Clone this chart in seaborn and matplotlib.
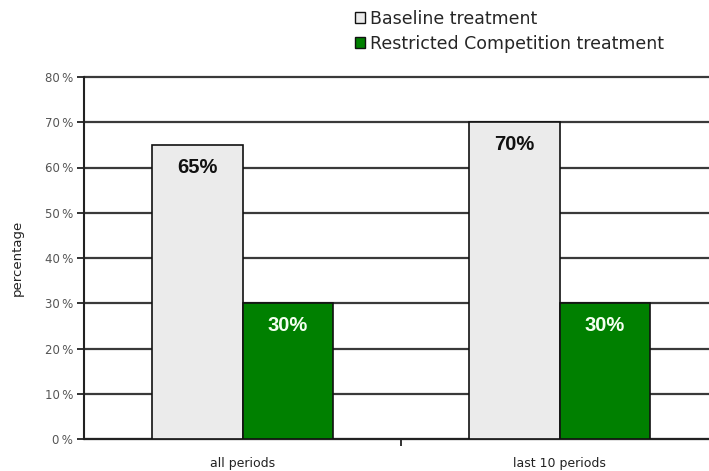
import matplotlib
matplotlib.use("Agg")
import matplotlib.pyplot as plt
import seaborn as sns
import pandas as pd
from matplotlib.patches import Patch
from matplotlib.ticker import FuncFormatter

categories = ["all periods", "last 10 periods"]
treatments = ["Baseline treatment", "Restricted Competition treatment"]
baseline = [65, 70]
restricted = [30, 30]
yticks = [0, 10, 20, 30, 40, 50, 60, 70, 80]

df = pd.DataFrame({
    "period": categories * 2,
    "treatment": [treatments[0]] * 2 + [treatments[1]] * 2,
    "value": baseline + restricted,
})

sns.set_theme(style="white")
plt.rcParams["font.family"] = ["DejaVu Sans"]

fig = plt.figure(figsize=(7.09, 4.71), dpi=100)
ax = fig.add_axes([84 / 709, 32 / 471, 634 / 709, 362 / 471])

palette = {treatments[0]: "#ebebeb", treatments[1]: "#008000"}
sns.barplot(data=df, x="period", y="value", hue="treatment", order=categories,
            hue_order=treatments, palette=palette, width=0.57, saturation=1,
            edgecolor="#111111", linewidth=1.2, legend=False, ax=ax, zorder=3)

ax.set_ylim(0, 80)
ax.set_xlim(-0.5, 1.5)
ax.set_yticks(yticks)
ax.yaxis.set_major_formatter(FuncFormatter(lambda v, _: f"{v:.0f}\u2009%"))
ax.grid(axis="y", color="#3a3a3a", linewidth=1.6, zorder=0)
ax.set_axisbelow(True)
for gl in ax.get_ygridlines():
    gl.set_clip_on(False)

for side in ["top", "right"]:
    ax.spines[side].set_visible(False)
for side in ["left", "bottom"]:
    ax.spines[side].set_color("#222222")
    ax.spines[side].set_linewidth(1.5)

ax.tick_params(axis="y", which="both", left=True, length=5, width=1.3,
               color="#222222", labelsize=8.5, labelcolor="#555555", pad=3)
ax.set_xticks([0, 1])
ax.set_xticklabels(categories, fontsize=9, color="#222222")
ax.tick_params(axis="x", bottom=False, pad=7)
ax.set_xticks([0.5], minor=True)
ax.tick_params(axis="x", which="minor", bottom=True, length=5, width=1.3,
               color="#222222")
ax.set_xlabel("")
ax.set_ylabel("percentage", fontsize=9.5, color="#222222", labelpad=15)

# value labels inside the bars
for container, color in zip(ax.containers, ["#111111", "#f4fff0"]):
    for bar in container:
        h = bar.get_height()
        ax.text(bar.get_x() + bar.get_width() / 2, h - 4.9, f"{h:.0f}%",
                ha="center", va="center", fontsize=14.5, fontweight="bold",
                family="Liberation Sans", color=color, zorder=5)

handles = [Patch(facecolor=palette[t], edgecolor="#111111", linewidth=1.0)
           for t in treatments]
fig.legend(handles, treatments, loc="upper left",
           bbox_to_anchor=(355 / 709, 1 - 10 / 471), frameon=False,
           fontsize=12.5, handlelength=0.6, handleheight=0.6,
           handletextpad=0.25, labelspacing=0.4, borderaxespad=0.0,
           borderpad=0.0)

fig.savefig("out.png", dpi=100)
